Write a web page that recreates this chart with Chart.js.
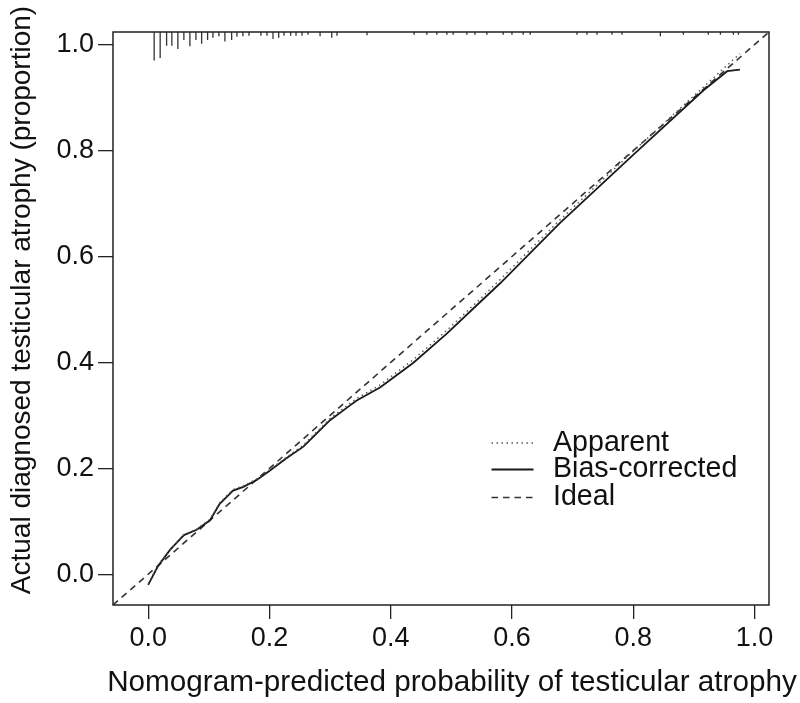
<!DOCTYPE html>
<html><head><meta charset="utf-8">
<script src="https://cdn.jsdelivr.net/npm/chart.js@4"></script>
<style>html,body{margin:0;padding:0;background:#fff}#wrap{width:800px;height:703px;position:relative}</style>
</head><body><div id="wrap"><canvas id="c"></canvas></div>
<script>
// ---- data ----
const xTicks = [0, 0.2, 0.4, 0.6, 0.8, 1.0];
const yTicks = [0, 0.2, 0.4, 0.6, 0.8, 1.0];
const axisMin = -0.058, axisMax = 1.024;
const seriesLabels = ['Apparent', 'Bias-corrected', 'Ideal'];
const xTitle = 'Nomogram-predicted probability of testicular atrophy';
const yTitle = 'Actual diagnosed testicular atrophy (proportion)';

const biasX = [0.000,0.016,0.036,0.059,0.080,0.102,0.118,0.140,0.157,0.179,0.201,0.228,0.256,0.278,0.300,0.333,0.344,0.383,0.437,0.493,0.542,0.581,0.679,0.800,0.916,0.955,0.976];
const biasY = [-0.020,0.015,0.046,0.074,0.084,0.102,0.133,0.158,0.165,0.178,0.196,0.219,0.241,0.266,0.291,0.319,0.328,0.353,0.399,0.455,0.508,0.550,0.663,0.792,0.914,0.950,0.953];

const apparentX = [0.000,0.016,0.036,0.059,0.080,0.102,0.118,0.140,0.157,0.179,0.201,0.228,0.256,0.278,0.300,0.333,0.344,0.383,0.437,0.493,0.542,0.581,0.679,0.800,0.916,0.950,0.976];
const apparentY = [-0.018,0.017,0.047,0.075,0.085,0.104,0.135,0.160,0.167,0.180,0.198,0.221,0.244,0.269,0.294,0.323,0.332,0.358,0.405,0.461,0.514,0.557,0.669,0.799,0.920,0.956,0.983];

const idealX = [axisMin, axisMax];
const idealY = [axisMin, axisMax];

// rug of predicted probabilities (spike length ~ frequency, in proportion units)
const rugX = [0.0099,0.0198,0.0304,0.0391,0.049,0.0589,0.0688,0.0788,0.0882,0.098,0.1068,0.1167,0.1266,0.1377,0.1464,0.1563,0.1663,0.186,0.196,0.2059,0.2153,0.224,0.235,0.2439,0.2538,0.2637,0.2835,0.3028,0.3115,0.361,0.4387,0.4596,0.4761,0.4927,0.503,0.5257,0.539,0.5587,0.5856,0.6,0.6186,0.6302,0.7073,0.7238,0.7403,0.765,0.7816,0.8448,0.8828,0.924,0.9439,0.9653,0.9736];
const rugLen = [0.054,0.049,0.026,0.026,0.032,0.015,0.027,0.015,0.022,0.015,0.011,0.008,0.018,0.015,0.009,0.008,0.007,0.007,0.007,0.013,0.011,0.007,0.007,0.007,0.007,0.005,0.008,0.011,0.007,0.006,0.005,0.005,0.005,0.005,0.005,0.005,0.005,0.005,0.005,0.005,0.005,0.005,0.005,0.005,0.005,0.005,0.005,0.008,0.005,0.005,0.005,0.005,0.005];

// ---- build ----
const FONT = '"Liberation Sans", Arial, Helvetica, sans-serif';
const pts = (xs, ys) => xs.map((x, i) => ({x, y: ys[i]}));
const rugData = [];
rugX.forEach((x, i) => { rugData.push({x, y: axisMax}, {x, y: axisMax - rugLen[i]}, {x, y: null}); });

const boxPlugin = {
  id: 'box',
  afterDatasetsDraw(chart) {
    const {ctx, chartArea: a} = chart;
    ctx.save();
    ctx.strokeStyle = '#222'; ctx.lineWidth = 1.5;
    ctx.strokeRect(a.left, a.top, a.right - a.left, a.bottom - a.top);
    ctx.restore();
  }
};

const textPlugin = {
  id: 'texts',
  afterDraw(chart) {
    const ctx = chart.ctx;
    ctx.save();
    ctx.fillStyle = '#111';
    ctx.font = '29.7px ' + FONT;
    ctx.textAlign = 'center'; ctx.textBaseline = 'alphabetic';
    ctx.fillText(xTitle, 452, 691);
    ctx.save();
    ctx.translate(30, 300); ctx.rotate(-Math.PI / 2);
    ctx.font = '28px ' + FONT;
    ctx.fillText(yTitle, 0, 0);
    ctx.restore();
    // legend
    const rows = [442, 468.5, 496.5];
    const dsIdx = [1, 2, 3];
    ctx.font = '28.6px ' + FONT;
    ctx.textAlign = 'left'; ctx.textBaseline = 'middle';
    rows.forEach((yy, k) => {
      const ds = chart.data.datasets[dsIdx[k]];
      ctx.save();
      ctx.strokeStyle = ds.borderColor; ctx.lineWidth = ds.borderWidth;
      ctx.setLineDash(ds.borderDash || []);
      ctx.beginPath(); ctx.moveTo(491.5, yy + 1); ctx.lineTo(533.5, yy + 1); ctx.stroke();
      ctx.restore();
      ctx.fillText(ds.label, 553, yy + 1);
    });
    ctx.restore();
  }
};

new Chart(document.getElementById('c'), {
  type: 'line',
  data: {
    datasets: [
      {label: 'rug', data: rugData, borderColor: '#333', borderWidth: 1.3, pointRadius: 0, spanGaps: false, tension: 0},
      {label: seriesLabels[0], data: pts(apparentX, apparentY), borderColor: '#555', borderWidth: 1.4, borderDash: [1.5, 3.5], pointRadius: 0, tension: 0},
      {label: seriesLabels[1], data: pts(biasX, biasY), borderColor: '#1a1a1a', borderWidth: 1.8, pointRadius: 0, tension: 0},
      {label: seriesLabels[2], data: pts(idealX, idealY), borderColor: '#333', borderWidth: 1.6, borderDash: [6.5, 5], pointRadius: 0, tension: 0}
    ]
  },
  options: {
    responsive: true, maintainAspectRatio: false, animation: false,
    layout: {padding: {top: 32, right: 31, left: 0, bottom: 0}},
    plugins: {legend: {display: false}, tooltip: {enabled: false}},
    scales: {
      x: {
        type: 'linear', min: axisMin, max: axisMax,
        afterBuildTicks: s => { s.ticks = xTicks.map(v => ({value: v})); },
        afterFit: s => { s.height = 98; },
        grid: {drawOnChartArea: false, drawTicks: true, tickLength: 14, color: '#222', lineWidth: 1.3},
        border: {display: false},
        ticks: {padding: 3, color: '#111', font: {family: FONT, size: 27}, maxRotation: 0, autoSkip: false, callback: v => Number(v).toFixed(1)}
      },
      y: {
        type: 'linear', min: axisMin, max: axisMax,
        afterBuildTicks: s => { s.ticks = yTicks.map(v => ({value: v})); },
        afterFit: s => { s.width = 113; },
        grid: {drawOnChartArea: false, drawTicks: true, tickLength: 15, color: '#222', lineWidth: 1.3},
        border: {display: false},
        ticks: {padding: 4, color: '#111', font: {family: FONT, size: 27}, autoSkip: false, callback: v => Number(v).toFixed(1)}
      }
    }
  },
  plugins: [boxPlugin, textPlugin]
});
</script></body></html>
